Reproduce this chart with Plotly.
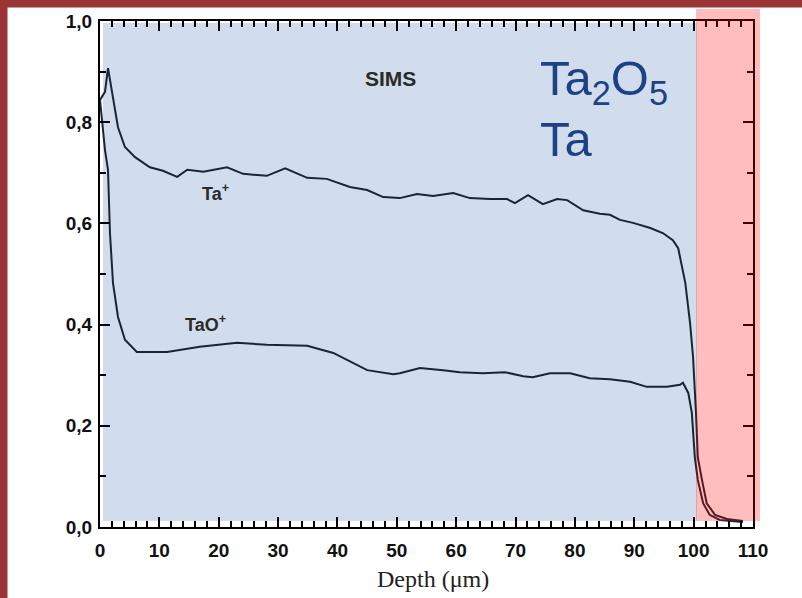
import plotly.graph_objects as go

# SIMS depth profile of an anodic Ta2O5 layer on Ta
ta_depth = [0.0, 0.84, 1.35, 2.19, 3.03, 4.2, 5.9, 8.4, 10.6, 13.0, 14.7, 17.4, 21.4,
            24.1, 28.1, 31.2, 34.9, 38.2, 42.1, 45.0, 47.7, 50.5, 53.4, 56.1, 59.5,
            62.3, 65.7, 68.6, 69.9, 72.1, 74.6, 77.0, 78.7, 81.4, 84.2, 85.9, 87.6,
            89.8, 92.7, 94.8, 96.5, 97.4, 97.7, 98.6, 99.4, 99.9, 100.4, 100.7,
            101.4, 102.2, 103.6, 105.6, 108.3]
ta_signal = [0.844, 0.86, 0.907, 0.844, 0.79, 0.751, 0.731, 0.711, 0.704, 0.692, 0.706,
             0.702, 0.711, 0.698, 0.694, 0.709, 0.69, 0.688, 0.672, 0.666, 0.652, 0.65,
             0.658, 0.654, 0.66, 0.65, 0.648, 0.648, 0.64, 0.656, 0.638, 0.648, 0.646,
             0.626, 0.619, 0.617, 0.607, 0.601, 0.591, 0.581, 0.567, 0.551, 0.534,
             0.482, 0.403, 0.336, 0.225, 0.138, 0.093, 0.047, 0.024, 0.016, 0.012]

tao_depth = [0.0, 0.5, 0.84, 1.35, 1.68, 2.19, 3.03, 4.2, 6.2, 11.3, 16.8, 23.1, 28.1,
             34.9, 39.3, 45.0, 49.4, 50.5, 53.9, 57.8, 60.6, 64.5, 68.2, 71.3, 72.9,
             75.8, 79.2, 82.5, 85.9, 89.3, 92.1, 95.5, 97.7, 98.2, 99.1, 99.7, 100.2,
             100.7, 101.6, 102.7, 104.4, 108.3]
tao_signal = [0.844, 0.79, 0.745, 0.706, 0.581, 0.482, 0.415, 0.37, 0.346, 0.346, 0.356,
              0.364, 0.36, 0.358, 0.344, 0.31, 0.302, 0.304, 0.314, 0.31, 0.306, 0.304,
              0.306, 0.298, 0.296, 0.304, 0.304, 0.294, 0.292, 0.287, 0.277, 0.277,
              0.281, 0.285, 0.265, 0.225, 0.138, 0.093, 0.047, 0.024, 0.014, 0.01]

x_ticks = [0, 10, 20, 30, 40, 50, 60, 70, 80, 90, 100, 110]
x_labels = ["0", "10", "20", "30", "40", "50", "60", "70", "80", "90", "100", "110"]
y_ticks = [0.0, 0.2, 0.4, 0.6, 0.8, 1.0]
y_labels = ["0,0", "0,2", "0,4", "0,6", "0,8", "1,0"]

# plot box in page pixels
L, R, T, B = 100, 753, 21, 527
W, H = R - L, B - T


def px(x):
    return (x - L) / W


def py(y):
    return (B - y) / H


line_col = "#1b2433"
fig = go.Figure()
fig.add_trace(go.Scatter(x=ta_depth, y=ta_signal, mode="lines",
                         line=dict(color=line_col, width=2), name="Ta+"))
fig.add_trace(go.Scatter(x=tao_depth, y=tao_signal, mode="lines",
                         line=dict(color=line_col, width=2), name="TaO+"))

tickfont = dict(family="Liberation Sans, Arial", size=19, color="#111111", weight="bold")
axis_common = dict(showline=True, linewidth=2, linecolor="black", mirror="ticks",
                   ticks="inside", ticklen=10, tickwidth=2, tickcolor="black",
                   showgrid=False, zeroline=False, tickfont=tickfont)

fig.update_xaxes(range=[0, 110], tickmode="array", tickvals=x_ticks, ticktext=x_labels,
                 minor=dict(ticks="inside", ticklen=6, tickwidth=1.5, tickcolor="black",
                            dtick=2, tick0=0, showgrid=False),
                 ticklabelstandoff=5, **axis_common)
fig.update_yaxes(range=[0, 1], tickmode="array", tickvals=y_ticks, ticktext=y_labels,
                 minor=dict(ticks="inside", ticklen=6, tickwidth=1.5, tickcolor="black",
                            dtick=0.1, tick0=0, showgrid=False),
                 ticklabelstandoff=2, **axis_common)

shapes = [
    # oxide region
    dict(type="rect", xref="paper", yref="paper", x0=px(103), x1=px(697),
         y0=py(521), y1=py(23), fillcolor="#d1ddec", line=dict(width=0), layer="below"),
    # metal substrate region
    dict(type="rect", xref="paper", yref="paper", x0=px(696), x1=px(760),
         y0=py(521), y1=py(9), fillcolor="rgba(255,0,0,0.26)", line=dict(width=0),
         layer="above"),
    # frame strips
    dict(type="rect", xref="paper", yref="paper", x0=px(0), x1=px(7.5),
         y0=py(598), y1=py(0), fillcolor="#993535", line=dict(width=0), layer="above"),
    dict(type="rect", xref="paper", yref="paper", x0=px(0), x1=px(802),
         y0=py(7.5), y1=py(0), fillcolor="#993535", line=dict(width=0), layer="above"),
]

annotations = [
    dict(text="<b>SIMS</b>", x=48.9, y=0.887, xref="x", yref="y", showarrow=False,
         font=dict(family="Liberation Sans, Arial", size=21, color="#2a2a2a")),
    dict(text="<b>Ta<sup>+</sup></b>", x=16.9, y=0.662, xref="x", yref="y",
         xanchor="left", yanchor="middle", showarrow=False,
         font=dict(family="Liberation Sans, Arial", size=18, color="#2a2a2a")),
    dict(text="<b>TaO<sup>+</sup></b>", x=13.9, y=0.403, xref="x", yref="y",
         xanchor="left", yanchor="middle", showarrow=False,
         font=dict(family="Liberation Sans, Arial", size=18, color="#2a2a2a")),
    dict(text="Ta<sub>2</sub>O<sub>5</sub>", x=px(538), y=py(82), xref="paper",
         yref="paper", xanchor="left", yanchor="middle", showarrow=False,
         font=dict(family="Liberation Sans, Arial", size=49, color="#1d4185")),
    dict(text="Ta", x=px(538), y=py(139), xref="paper", yref="paper", xanchor="left",
         yanchor="middle", showarrow=False,
         font=dict(family="Liberation Sans, Arial", size=49, color="#1d4185")),
    dict(text="Depth (\u03bcm)", x=px(433), y=py(579), xref="paper", yref="paper",
         xanchor="center", yanchor="middle", showarrow=False,
         font=dict(family="Liberation Serif, Times New Roman", size=24, color="#222222")),
]

fig.update_layout(width=802, height=598, autosize=False,
                  margin=dict(l=L, r=802 - R, t=T, b=598 - B, pad=0),
                  paper_bgcolor="white", plot_bgcolor="white", showlegend=False,
                  shapes=shapes, annotations=annotations)

fig.write_html("out.html")
